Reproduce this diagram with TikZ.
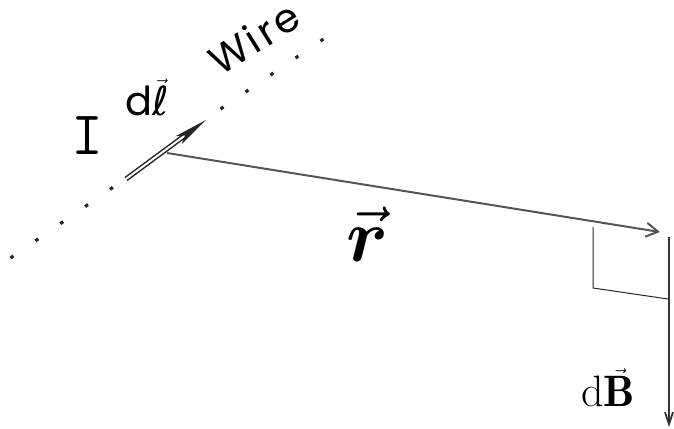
\documentclass[tikz,border=0pt]{standalone}
\usepackage{amsmath}
\usepackage{fontspec}
\usetikzlibrary{arrows.meta,calc}
\newfontfamily\geo{Poppins}
\newfontfamily\geosp[LetterSpace=8]{Poppins}
\newfontfamily\dvs{DejaVu Sans}
\definecolor{lgray}{HTML}{555555}
\tikzset{
  wiredots/.style={line width=3.2pt, dash pattern=on 3.5pt off 26.7pt, shorten <=-1.75pt, shorten >=-1.75pt, black!85},
  rvec/.style={lgray, line width=2pt, -{Straight Barb[length=12pt,width=14pt,line width=2pt]}},
  bvec/.style={black!80, line width=1.8pt, -{Straight Barb[length=12pt,width=8pt]}},
  rightangle/.style={black!85, line width=1pt},
  lbl/.style={inner sep=0pt}
}
\begin{document}
\begin{tikzpicture}[x=1pt,y=-1pt]
\useasboundingbox (0,0) rectangle (674,428);
% wire
\coordinate (wa) at (12,257);
\coordinate (wb) at (112,188);
\coordinate (wc) at (222,108);
\coordinate (wd) at (322,40);
\draw[wiredots] (wa) -- (wb);
\draw[wiredots] (wc) -- (wd);
% dl arrow
\coordinate (dlt) at (126,179);
\coordinate (dlh) at (206,120);
\draw[black!85, line width=1.5pt, double=white, double distance=2pt, shorten >=20pt] (dlt) -- (dlh);
\fill[black!85] (dlh) -- ($(dlh)!34pt!(dlt)!5pt!90:(dlt)$) -- ($(dlh)!26pt!(dlt)$) -- ($(dlh)!34pt!(dlt)!5pt!-90:(dlt)$) -- cycle;
% r vector
\coordinate (r0) at (167,153);
\coordinate (r1) at (660,232);
\draw[rvec] (r0) -- (r1);
% dB vector
\coordinate (b0) at (669,237);
\coordinate (b1) at (669,427);
\draw[bvec] (b0) -- (b1);
% right angle
\coordinate (ra1) at (593,227);
\coordinate (ra2) at (593,288);
\coordinate (ra3) at (668,299);
\draw[rightangle] (ra1) -- (ra2) -- (ra3);
% labels
\node[lbl] (I) at (87,136) {\ttfamily\fontsize{62}{66}\selectfont I};
\node[lbl] (dl) at (147,97) {\geo\fontsize{40}{46}\selectfont d\(\vec{\hbox{\dvs ℓ}}\)};
\node[lbl, rotate=32, anchor=base west] (wire) at (220,77) {\geosp\fontsize{40}{46}\selectfont Wire};
\node[lbl, scale=7.5] (rl) at (368,234) {$\vec{\boldsymbol{r}}$};
\node[lbl] (bl) at (608,388) {\fontsize{44}{50}\selectfont$\mathrm{d}\vec{\mathbf{B}}$};
\end{tikzpicture}
\end{document}
